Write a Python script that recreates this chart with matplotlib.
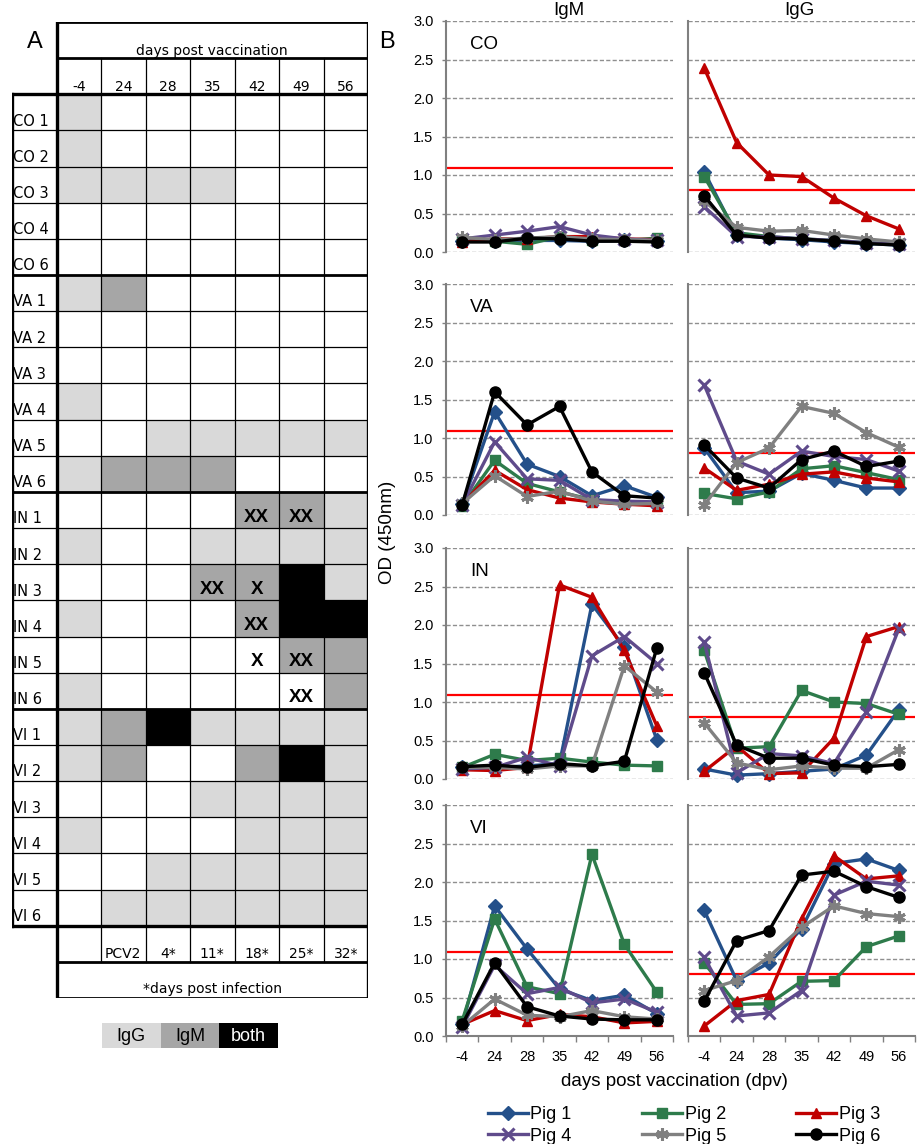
import numpy as np
import matplotlib
matplotlib.use('Agg')
import matplotlib.pyplot as plt
from matplotlib.colors import ListedColormap

# ---------------- data ----------------
days = ['-4', '24', '28', '35', '42', '49', '56']
dpi_labels = ['', 'PCV2', '4*', '11*', '18*', '25*', '32*']
pigs = ['Pig 1', 'Pig 2', 'Pig 3', 'Pig 4', 'Pig 5', 'Pig 6']
groups = ['CO', 'VA', 'IN', 'VI']
row_labels = ['CO 1', 'CO 2', 'CO 3', 'CO 4', 'CO 6',
              'VA 1', 'VA 2', 'VA 3', 'VA 4', 'VA 5', 'VA 6',
              'IN 1', 'IN 2', 'IN 3', 'IN 4', 'IN 5', 'IN 6',
              'VI 1', 'VI 2', 'VI 3', 'VI 4', 'VI 5', 'VI 6']
# 0 = none, 1 = IgG, 2 = IgM, 3 = both
status = [
    [1, 0, 0, 0, 0, 0, 0],
    [1, 0, 0, 0, 0, 0, 0],
    [1, 1, 1, 1, 0, 0, 0],
    [0, 0, 0, 0, 0, 0, 0],
    [0, 0, 0, 0, 0, 0, 0],
    [1, 2, 0, 0, 0, 0, 0],
    [0, 0, 0, 0, 0, 0, 0],
    [0, 0, 0, 0, 0, 0, 0],
    [1, 0, 0, 0, 0, 0, 0],
    [0, 0, 1, 1, 1, 1, 1],
    [1, 2, 2, 2, 0, 0, 0],
    [0, 0, 0, 0, 2, 2, 1],
    [1, 0, 0, 1, 1, 1, 1],
    [0, 0, 0, 2, 2, 3, 1],
    [1, 0, 0, 0, 2, 3, 3],
    [0, 0, 0, 0, 0, 2, 2],
    [1, 0, 0, 0, 0, 0, 2],
    [1, 2, 3, 1, 1, 1, 1],
    [1, 2, 0, 0, 2, 3, 1],
    [0, 0, 0, 1, 1, 1, 1],
    [1, 0, 0, 0, 1, 1, 1],
    [0, 0, 1, 1, 1, 1, 1],
    [0, 1, 1, 1, 1, 1, 1],
]
marks = [('IN 1', 4, 'XX'), ('IN 1', 5, 'XX'), ('IN 3', 3, 'XX'), ('IN 3', 4, 'X'),
         ('IN 4', 4, 'XX'), ('IN 5', 4, 'X'), ('IN 5', 5, 'XX'), ('IN 6', 5, 'XX')]
key_labels = ['IgG', 'IgM', 'both']

cutoff_igm = 1.09
cutoff_igg = 0.81

co_igm = [
    [0.14, 0.14, 0.15, 0.15, 0.14, 0.15, 0.14],
    [0.15, 0.14, 0.10, 0.20, 0.15, 0.15, 0.18],
    [0.13, 0.17, 0.17, 0.20, 0.20, 0.17, 0.16],
    [0.17, 0.22, 0.27, 0.33, 0.22, 0.17, 0.15],
    [0.19, 0.16, 0.18, 0.20, 0.17, 0.16, 0.15],
    [0.13, 0.13, 0.18, 0.17, 0.14, 0.14, 0.13],
]
co_igg = [
    [1.04, 0.22, 0.18, 0.16, 0.13, 0.11, 0.09],
    [0.98, 0.25, 0.20, 0.17, 0.15, 0.12, 0.10],
    [2.39, 1.42, 1.00, 0.98, 0.70, 0.47, 0.30],
    [0.59, 0.20, 0.20, 0.17, 0.15, 0.12, 0.10],
    [0.66, 0.32, 0.27, 0.28, 0.22, 0.17, 0.13],
    [0.73, 0.22, 0.18, 0.17, 0.14, 0.11, 0.09],
]
va_igm = [
    [0.14, 1.34, 0.66, 0.50, 0.25, 0.38, 0.23],
    [0.12, 0.71, 0.41, 0.30, 0.20, 0.15, 0.15],
    [0.14, 0.58, 0.33, 0.22, 0.17, 0.14, 0.12],
    [0.13, 0.95, 0.47, 0.45, 0.20, 0.18, 0.17],
    [0.15, 0.51, 0.24, 0.31, 0.18, 0.14, 0.15],
    [0.13, 1.60, 1.17, 1.41, 0.56, 0.25, 0.22],
]
va_igg = [
    [0.87, 0.29, 0.31, 0.54, 0.45, 0.35, 0.35],
    [0.28, 0.21, 0.30, 0.60, 0.64, 0.55, 0.46],
    [0.61, 0.32, 0.40, 0.53, 0.56, 0.48, 0.43],
    [1.69, 0.70, 0.53, 0.83, 0.76, 0.72, 0.57],
    [0.13, 0.68, 0.87, 1.41, 1.32, 1.07, 0.88],
    [0.91, 0.48, 0.35, 0.72, 0.83, 0.63, 0.70],
]
in_igm = [
    [0.15, 0.15, 0.17, 0.20, 2.27, 1.71, 0.51],
    [0.15, 0.32, 0.24, 0.27, 0.22, 0.18, 0.17],
    [0.12, 0.11, 0.15, 2.52, 2.36, 1.67, 0.69],
    [0.13, 0.15, 0.28, 0.17, 1.60, 1.85, 1.50],
    [0.15, 0.15, 0.13, 0.17, 0.17, 1.47, 1.13],
    [0.16, 0.18, 0.15, 0.20, 0.17, 0.23, 1.70],
]
in_igg = [
    [0.13, 0.05, 0.07, 0.10, 0.13, 0.31, 0.90],
    [1.67, 0.40, 0.42, 1.15, 1.00, 0.98, 0.84],
    [0.10, 0.43, 0.07, 0.08, 0.53, 1.85, 1.98],
    [1.78, 0.08, 0.33, 0.30, 0.20, 0.87, 1.95],
    [0.73, 0.21, 0.12, 0.17, 0.14, 0.14, 0.38],
    [1.38, 0.44, 0.27, 0.27, 0.18, 0.16, 0.19],
]
vi_igm = [
    [0.15, 1.69, 1.13, 0.61, 0.46, 0.53, 0.29],
    [0.20, 1.52, 0.64, 0.55, 2.36, 1.19, 0.57],
    [0.15, 0.33, 0.20, 0.28, 0.25, 0.17, 0.19],
    [0.12, 0.92, 0.55, 0.63, 0.43, 0.48, 0.31],
    [0.13, 0.48, 0.27, 0.25, 0.33, 0.25, 0.22],
    [0.15, 0.95, 0.38, 0.26, 0.22, 0.21, 0.21],
]
vi_igg = [
    [1.63, 0.72, 0.95, 1.39, 2.24, 2.30, 2.15],
    [0.95, 0.41, 0.42, 0.71, 0.72, 1.16, 1.30],
    [0.13, 0.46, 0.54, 1.52, 2.34, 2.04, 2.08],
    [1.02, 0.26, 0.30, 0.59, 1.83, 2.01, 1.96],
    [0.59, 0.72, 1.03, 1.41, 1.69, 1.59, 1.55],
    [0.45, 1.24, 1.37, 2.09, 2.14, 1.94, 1.80],
]

# ---------------- style ----------------
ARIAL = 'Liberation Sans'
TAB = 'DejaVu Sans'
plt.rcParams['font.family'] = [ARIAL, 'DejaVu Sans']

pig_colors = ['#24508a', '#2e7b4b', '#c00000', '#5f4b8b', '#808080', '#000000']
pig_markers = ['D', 's', '^', 'x', (6, 2, 0), 'o']
pig_ms = [7, 6.5, 7.5, 8, 9, 8]
cmap = ListedColormap(['#ffffff', '#d9d9d9', '#a6a6a6', '#000000'])

W, H = 917, 1144
fig = plt.figure(figsize=(W / 100, H / 100), dpi=100)


def fx(px):
    return px / W


def fy(py):
    return 1 - py / H

# ---------------- panel A: table ----------------
axA = fig.add_axes([fx(12), fy(998), fx(356), 976 / H])
axA.set_xlim(-1, 7)
axA.set_ylim(27, 0)
axA.axis('off')
n_rows = len(row_labels)
axA.pcolormesh(np.arange(len(days) + 1), np.arange(2, n_rows + 3), np.array(status),
               cmap=cmap, vmin=-0.5, vmax=3.5)

thin, thick = 0.9, 2.0
kw = dict(color='black', solid_capstyle='projecting')
group_breaks = []
prev = row_labels[0][:2]
for i, lab in enumerate(row_labels):
    if lab[:2] != prev:
        group_breaks.append(i + 2)
        prev = lab[:2]
for yv in range(3, n_rows + 2):
    axA.plot([-1, 7], [yv, yv], lw=thick if yv in group_breaks else thin, **kw)
axA.plot([-1, 7], [2, 2], lw=2.4, **kw)
axA.plot([-1, 7], [n_rows + 2, n_rows + 2], lw=2.4, **kw)
for yv in [0, 1, n_rows + 3, n_rows + 4]:
    axA.plot([0, 7], [yv, yv], lw=thick, **kw)
for xv in range(1, 7):
    axA.plot([xv, xv], [1, n_rows + 3], lw=thin, **kw)
axA.plot([-1, -1], [2, n_rows + 2], lw=2.4, **kw)
axA.plot([0, 0], [0, n_rows + 4], lw=2.4, **kw)
axA.plot([7, 7], [0, n_rows + 4], lw=2.4, **kw)

axA.text(3.5, 0.9, 'days post vaccination', ha='center', va='baseline', fontsize=10, family=TAB)
for c, d in enumerate(days):
    axA.text(c + 0.5, 1.9, d, ha='center', va='baseline', fontsize=10, family=TAB)
for r, lab in enumerate(row_labels):
    axA.text(-0.97, r + 2.87, lab, ha='left', va='baseline', fontsize=10.5, family=TAB)
for c, d in enumerate(dpi_labels):
    axA.text(c + 0.5, n_rows + 2.9, d, ha='center', va='baseline', fontsize=10, family=TAB)
axA.text(3.5, n_rows + 3.86, '*days post infection', ha='center', va='baseline', fontsize=10, family=TAB)
for lab, c, t in marks:
    r = row_labels.index(lab)
    axA.text(c + 0.5, r + 2 + 0.7, t, ha='center', va='center', fontsize=13.5,
             fontweight='bold', family=ARIAL, color='black')

# key
axK = fig.add_axes([fx(102), fy(1048), fx(176), 25 / H])
axK.imshow([[1, 2, 3]], cmap=cmap, vmin=-0.5, vmax=3.5, aspect='auto', extent=(0, 3, 0, 1))
axK.axis('off')
for i, lab in enumerate(key_labels):
    axK.text(i + 0.5, 0.45, lab, ha='center', va='center', fontsize=13,
             color='white' if i == 2 else 'black')

fig.text(fx(35), fy(42), 'A', ha='center', va='center', fontsize=17)
fig.text(fx(387), fy(42), 'B', ha='center', va='center', fontsize=17)

# ---------------- panel B: line charts ----------------
igm_sets = [co_igm, va_igm, in_igm, vi_igm]
igg_sets = [co_igg, va_igg, in_igg, vi_igg]
bottoms = [252, 515, 779, 1036]
lefts = [446, 688]
x = np.arange(len(days))
legend_handles = None

for gi, g in enumerate(groups):
    for k, (dset, cut) in enumerate([(igm_sets[gi], cutoff_igm), (igg_sets[gi], cutoff_igg)]):
        ax = fig.add_axes([fx(lefts[k]), fy(bottoms[gi]), fx(227), 231 / H])
        ax.set_xlim(-0.5, 6.5)
        ax.set_ylim(0, 3.0)
        ax.set_yticks(np.arange(0, 3.01, 0.5))
        ax.yaxis.grid(True, linestyle=(0, (3, 1.6)), color='#8f8f8f', lw=1.0)
        ax.set_axisbelow(True)
        handles = []
        for p in range(len(pigs)):
            mk = pig_markers[p]
            h, = ax.plot(x, dset[p], color=pig_colors[p], lw=2.4, marker=mk,
                         ms=pig_ms[p], mfc=pig_colors[p], mec=pig_colors[p],
                         mew=2.2 if mk in ('x',) or isinstance(mk, tuple) else 1.0,
                         label=pigs[p], clip_on=False, zorder=3 + p)
            handles.append(h)
        if legend_handles is None:
            legend_handles = handles
        ax.axhline(cut, color='#ff0000', lw=1.6, zorder=2)
        for s in ['top', 'right']:
            ax.spines[s].set_visible(False)
        ax.spines['left'].set_color('#808080')
        ax.spines['left'].set_linewidth(1.5)
        if k == 0:
            ax.yaxis.set_major_formatter(matplotlib.ticker.FormatStrFormatter('%.1f'))
            ax.tick_params(axis='y', length=3, color='#808080', width=1, pad=6, labelsize=10.5)
            ax.text(0.106, 0.88, g, transform=ax.transAxes, fontsize=13.5, ha='left', va='baseline')
        else:
            ax.tick_params(axis='y', length=0, labelleft=False)
        if gi == len(groups) - 1:
            ax.spines['bottom'].set_color('#808080')
            ax.spines['bottom'].set_linewidth(1.5)
            ax.set_xticks(x)
            ax.set_xticklabels(days)
            ax.set_xticks(np.arange(-0.5, 7, 1), minor=True)
            ax.tick_params(axis='x', which='major', length=0, pad=10, labelsize=10.5)
            ax.tick_params(axis='x', which='minor', length=4, color='#808080', width=1)
        else:
            ax.spines['bottom'].set_visible(False)
            ax.set_xticks([])
        if gi == 0:
            ax.text(0.5 + (0.04 if k == 0 else -0.01), fy(15), ['IgM', 'IgG'][k],
                    transform=matplotlib.transforms.blended_transform_factory(ax.transAxes, fig.transFigure),
                    ha='center', va='baseline', fontsize=13.5)

fig.text(fx(387), fy(532), 'OD (450nm)', rotation=90, ha='center', va='center', fontsize=13.5)
fig.text(fx(674), fy(1082), 'days post vaccination (dpv)', ha='center', va='center', fontsize=13.5)

order = [0, 3, 1, 4, 2, 5]
fig.legend([legend_handles[i] for i in order], [pigs[i] for i in order], ncol=3,
           loc='upper left', bbox_to_anchor=(fx(488), fy(1106)), frameon=False,
           fontsize=13, handlelength=2.2, handletextpad=0.15, columnspacing=3.9,
           labelspacing=0.25, borderpad=0, borderaxespad=0)

fig.savefig('out.png', dpi=100)
